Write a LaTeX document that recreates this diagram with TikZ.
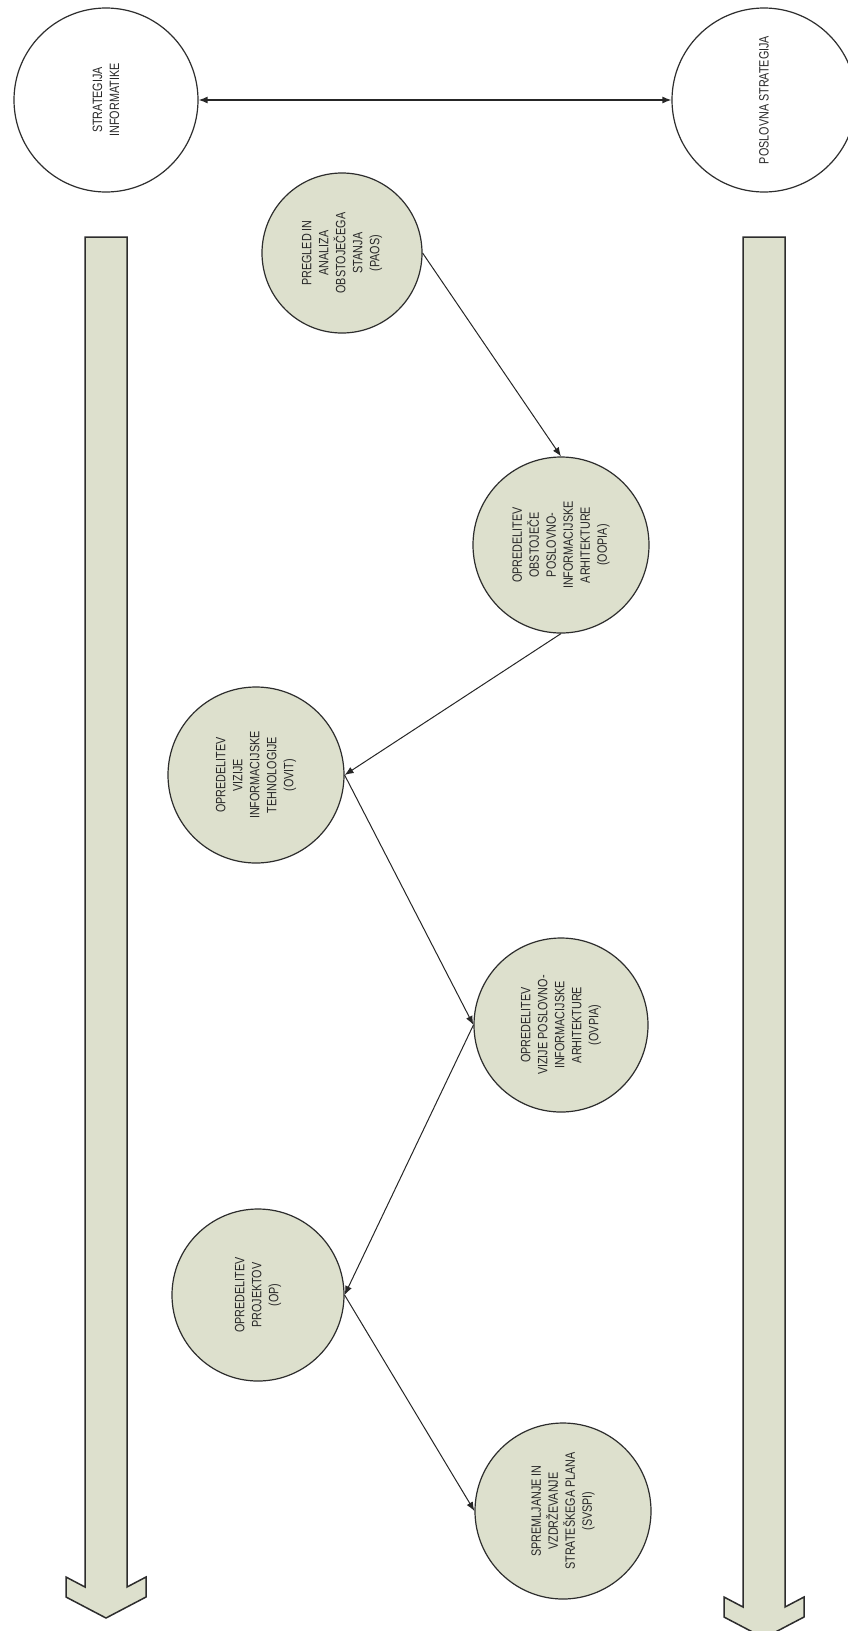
\documentclass[tikz,border=0pt]{standalone}
\usepackage{fontspec}
\setmainfont{Liberation Sans}
\newfontfamily\narrowsf[FakeStretch=0.8]{Liberation Sans}
\usetikzlibrary{arrows.meta}
\definecolor{stagefill}{RGB}{221,224,205}
\definecolor{outline}{RGB}{45,45,45}
\definecolor{labeltext}{RGB}{40,40,40}
\tikzset{
  stage/.style={circle, draw=outline, line width=1.2pt, fill=stagefill, inner sep=0pt},
  goal/.style={circle, draw=outline, line width=1.2pt, fill=white, inner sep=0pt},
  caption/.style={rotate=90, align=center, text=labeltext,
    font=\narrowsf\fontsize{13.5}{17}\selectfont},
  flow/.style={draw=black!85, line width=1pt, -{Latex[length=9pt,width=7pt]}},
  both/.style={draw=black!85, line width=1.3pt, {Latex[length=9pt,width=7pt]}-{Latex[length=9pt,width=7pt]}},
  timeline/.style={draw=outline, line width=1.5pt, fill=stagefill, line join=miter},
}
\begin{document}
\begin{tikzpicture}[x=1pt,y=-1pt]
\useasboundingbox (0,0) rectangle (848,1631);
\clip (0,0) rectangle (848,1631);
\fill[white] (0,0) rectangle (848,1631);

% long downward block arrows (time axis of each strategy)
\draw[timeline] (85,237) -- (127,237) -- (127,1587) -- (146,1577) -- (146,1597)
  -- (106,1618) -- (66,1597) -- (66,1577) -- (85,1587) -- cycle;
\draw[timeline] (743,237) -- (785,237) -- (785,1607) -- (804,1597) -- (804,1617)
  -- (764,1638) -- (724,1617) -- (724,1597) -- (743,1607) -- cycle;

% the two strategies
\node[goal, minimum size=184pt] (SI) at (106,100) {};
\node[caption] (SI-t) at (SI) {STRATEGIJA\\INFORMATIKE};
\node[goal, minimum size=184pt] (PS) at (764,100) {};
\node[caption] (PS-t) at (PS) {POSLOVNA STRATEGIJA};

% phases
\node[stage, minimum size=160pt] (PAOS) at (342,253) {};
\node[caption] (PAOS-t) at (PAOS) {PREGLED IN\\ANALIZA\\OBSTOJEČEGA\\STANJA\\(PAOS)};

\node[stage, minimum size=176pt] (OOPIA) at (561,545) {};
\node[caption] (OOPIA-t) at (OOPIA) {OPREDELITEV\\OBSTOJEČE\\POSLOVNO-\\INFORMACIJSKE\\ARHITEKTURE\\(OOPIA)};

\node[stage, minimum size=176pt] (OVIT) at (256,775) {};
\node[caption] (OVIT-t) at (OVIT) {OPREDELITEV\\VIZIJE\\INFORMACIJSKE\\TEHNOLOGIJE\\(OVIT)};

\node[stage, minimum size=174pt] (OVPIA) at (561,1025) {};
\node[caption] (OVPIA-t) at (OVPIA) {OPREDELITEV\\VIZIJE POSLOVNO-\\INFORMACIJSKE\\ARHITEKTURE\\(OVPIA)};

\node[stage, minimum size=172pt] (OP) at (258,1295) {};
\node[caption] (OP-t) at (OP) {OPREDELITEV\\PROJEKTOV\\(OP)};

\node[stage, minimum size=176pt] (SVSPI) at (563,1511) {};
\node[caption] (SVSPI-t) at (SVSPI) {SPREMLJANJE IN\\VZDRŽEVANJE\\STRATEŠKEGA PLANA\\(SVSPI)};

% connectors
\draw[both] (SI.east) -- (PS.west);
\draw[flow] (PAOS.east) -- (OOPIA.north);
\draw[flow] (OOPIA.south) -- (OVIT.east);
\draw[flow] (OVIT.east) -- (OVPIA.west);
\draw[flow] (OVPIA.west) -- (OP.east);
\draw[flow] (OP.east) -- (SVSPI.west);
\end{tikzpicture}
\end{document}
